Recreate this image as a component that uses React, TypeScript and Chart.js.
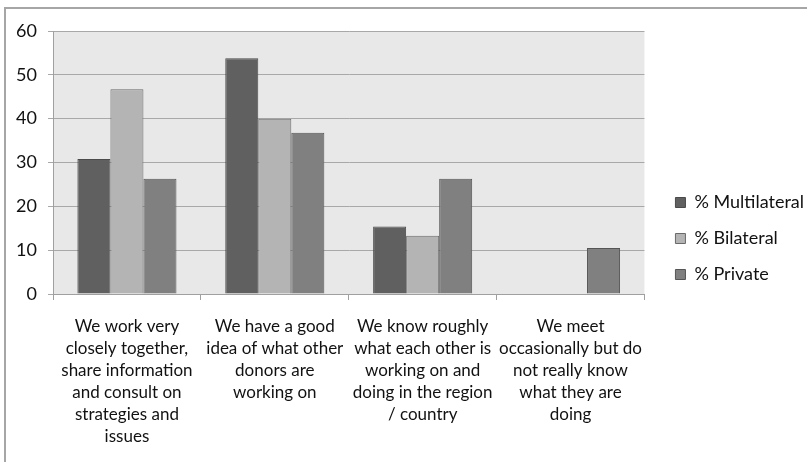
import React, { useEffect, useRef } from "react";
import { Chart, registerables } from "chart.js";

Chart.register(...registerables);

const categories: string[][] = [
  ["We work very", "closely together,", "share information", "and consult on", "strategies and", "issues"],
  ["We have a good", "idea of what other", "donors are", "working on"],
  ["We know roughly", "what each other is", "working on and", "doing in the region", "/ country"],
  ["We meet", "occasionally but do", "not really know", "what they are", "doing"],
];
const seriesNames = ["% Multilateral", "% Bilateral", "% Private"];
const multilateral: (number | null)[] = [30.8, 53.8, 15.4, null];
const bilateral: (number | null)[] = [46.7, 40.0, 13.3, null];
const privateSector: (number | null)[] = [26.3, 36.8, 26.3, 10.5];
const yMin = 0;
const yMax = 60;
const yStep = 10;

const FONT = "Lato, 'Liberation Sans', sans-serif";

const plotBg = {
  id: "plotBg",
  beforeDraw(chart: any) {
    const { ctx, chartArea } = chart;
    if (!chartArea) return;
    ctx.save();
    ctx.fillStyle = "#e8e8e8";
    ctx.fillRect(chartArea.left, chartArea.top, chartArea.right - chartArea.left, chartArea.bottom - chartArea.top);
    ctx.restore();
  },
};

const legendShift = {
  id: "legendShift",
  afterLayout(chart: any) {
    const l = chart.legend;
    if (l) {
      l.left += 13;
      l.right += 13;
      l.top -= 4;
      l.bottom -= 4;
    }
  },
};

export default function App() {
  const ref = useRef<HTMLCanvasElement | null>(null);

  useEffect(() => {
    if (!ref.current) return;
    const chart = new Chart(ref.current, {
      type: "bar",
      data: {
        labels: categories,
        datasets: [
          { label: seriesNames[0], data: multilateral, backgroundColor: "#606060", borderColor: "#4a4a4a", borderWidth: 1 },
          { label: seriesNames[1], data: bilateral, backgroundColor: "#b4b4b4", borderColor: "#6a6a6a", borderWidth: 1 },
          { label: seriesNames[2], data: privateSector, backgroundColor: "#808080", borderColor: "#555555", borderWidth: 1 },
        ],
      },
      options: {
        animation: false,
        responsive: false,
        devicePixelRatio: 1,
        layout: { padding: { top: 31, bottom: 8, left: 0, right: 6 } },
        datasets: { bar: { categoryPercentage: 0.67, barPercentage: 1.0 } },
        plugins: {
          tooltip: { enabled: false },
          legend: {
            position: "right",
            labels: {
              boxWidth: 10,
              boxHeight: 10,
              padding: 18,
              color: "#111111",
              font: { family: FONT, size: 18 },
            },
          },
        },
        scales: {
          x: {
            grid: { display: true, drawOnChartArea: false, drawTicks: true, tickLength: 6, color: "#a0a0a0", offset: true },
            border: { display: true, color: "#a0a0a0" },
            ticks: {
              color: "#111111",
              font: { family: FONT, size: 17, lineHeight: 22 / 17 },
              padding: 16,
              maxRotation: 0,
              minRotation: 0,
              autoSkip: false,
            },
            afterFit(scale: any) {
              scale.height = 160;
            },
          },
          y: {
            min: yMin,
            max: yMax,
            grid: { color: "#a8a8a8", tickLength: 5, drawTicks: true },
            border: { display: true, color: "#a0a0a0" },
            ticks: {
              stepSize: yStep,
              color: "#111111",
              font: { family: FONT, size: 18 },
              padding: 11,
            },
            afterFit(scale: any) {
              scale.width = 53;
            },
          },
        },
      },
      plugins: [plotBg, legendShift],
    });
    return () => chart.destroy();
  }, []);

  return (
    <div style={{ position: "fixed", left: 0, top: 0, width: 807, height: 462, background: "#ffffff" }}>
      <div
        style={{
          position: "absolute",
          left: 4,
          top: 7,
          right: 0,
          bottom: 0,
          borderTop: "2px solid #a6a6a6",
          borderLeft: "2px solid #a6a6a6",
        }}
      />
      <canvas ref={ref} width={807} height={462} style={{ position: "absolute", left: 0, top: 0, width: 807, height: 462 }} />
    </div>
  );
}
